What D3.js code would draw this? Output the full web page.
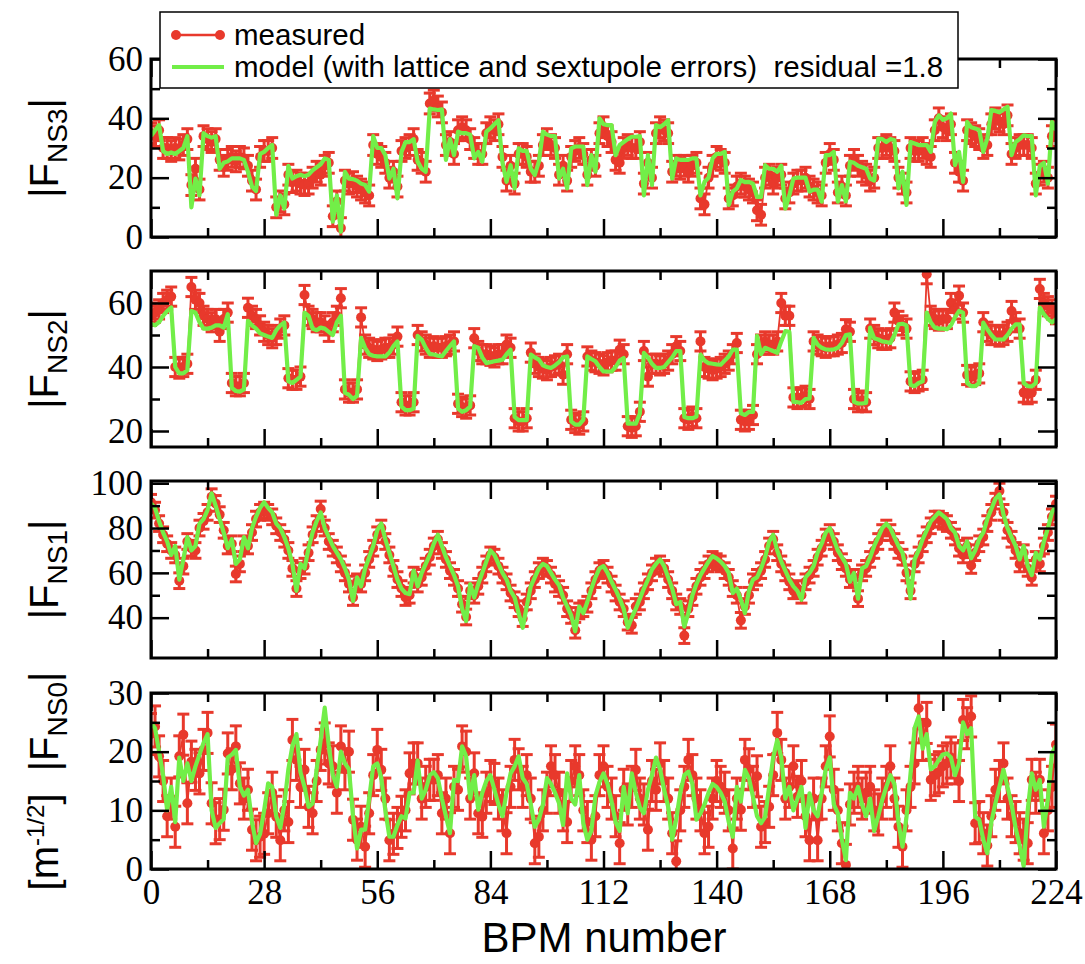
<!DOCTYPE html>
<html>
<head>
<meta charset="utf-8">
<script src="https://cdn.jsdelivr.net/npm/d3@7"></script>
<style>
body { margin: 0; background: #fff; }
</style>
</head>
<body>
<div id="chart"></div>
<script>
// |F_NS3| (panel 1)
const ns3Measured = [
  35, 34, 36, 30, 30, 29, 30, 29.5, 31, 33, 17.5, 23, 16, 34, 33,
  32, 33, 26, 24, 26, 27, 25.5, 27, 26.5, 24, 19, 16, 27, 29, 29,
  30, 10, 12, 11, 21, 18.5, 19, 18, 17.5, 18, 20, 22, 21, 24, 25,
  7, 12, 3, 19, 18, 18.5, 17, 16, 15, 14, 31, 28, 27, 25, 20,
  22, 17, 29, 30, 31, 33, 26, 25, 22, 45, 46, 44, 42, 31, 32,
  28, 36, 37, 36, 33, 30, 28, 28, 35, 37, 36, 38, 27, 19, 24,
  18, 28, 28, 27, 22, 22, 24, 31, 33, 31, 30, 21, 24, 19, 27,
  29, 30, 28, 21, 26, 24, 35, 37, 34, 32, 26, 25, 30, 31, 30,
  30, 32, 18, 25, 20, 35, 37, 36, 35, 22, 24, 23, 24, 22, 24,
  25, 13, 11, 20, 24, 27, 26, 25, 13, 14, 17, 18, 17, 16, 15,
  9, 7.5, 20, 21, 18, 20, 21, 13, 15, 18, 19, 19, 20, 17, 16,
  15, 14, 25, 28, 26, 15, 17, 14, 24, 26, 24, 22, 21, 19, 20,
  30, 30, 31, 30, 29, 20, 18, 15, 30, 29, 29, 30, 28, 27, 36,
  40, 37, 36, 38, 25, 22, 19, 36, 35, 34, 33, 30, 31, 38, 40,
  39, 38, 41, 28, 30, 31, 31, 31, 30, 18, 21, 22, 20, 34, 36
];
const ns3Model = [
  34, 36, 37.7, 29, 28, 28.5, 28, 29, 30, 34, 10, 19.7, 14, 35, 34,
  33.5, 34, 23, 25, 25.5, 26.5, 26.5, 26.5, 26, 22, 17, 15.5, 28, 28.7, 30,
  31, 7.5, 14, 9.6, 24, 19.7, 20.5, 21, 20.5, 21, 22.5, 23.5, 24.5, 26.5, 26,
  5.2, 14, 1.8, 22, 19.7, 19.5, 19, 18, 17.5, 15.3, 34, 30, 30, 27.6, 19.7,
  23, 13, 28.7, 32, 32, 33, 25.4, 23, 22, 43.3, 43, 42.8, 43, 26, 33,
  27.6, 35.5, 35, 35, 34.5, 26.5, 28.7, 25.4, 35.5, 36.6, 38, 39.4, 25, 18.6, 24.2,
  16.4, 29.9, 29, 29, 23, 20.9, 25.4, 35.5, 34.5, 34, 34, 19.7, 23, 16.4, 29.9,
  30.5, 30.5, 30.5, 17.5, 27.6, 22, 40, 38, 37.7, 37.7, 27.6, 31, 32, 33, 33.8,
  33.8, 34, 14, 27.6, 17.5, 37.7, 37, 38, 39.4, 19.7, 26.5, 26, 26, 26, 26.5,
  26.5, 14, 18.6, 20, 26.5, 28, 28, 28.7, 10.8, 15.3, 16.4, 19.2, 18.5, 18.6, 18,
  13.5, 13.5, 24.2, 23, 23, 22, 24, 9.6, 14, 19.7, 20, 20, 20, 15.3, 16,
  16, 11.9, 27.6, 27.6, 28.7, 11.9, 17.5, 12, 25.4, 25, 24, 23.5, 23, 19.7, 19,
  33.2, 33, 32, 33, 32.7, 16.4, 22, 10.8, 32, 31.5, 31, 31, 31, 28.7, 38.8,
  41, 39.5, 40, 41.6, 24.2, 28.7, 18.6, 38.8, 37, 36.6, 36, 28.7, 33.2, 42.8, 42.5,
  42, 43, 43.9, 27.6, 32, 33, 34.3, 34, 34, 14, 24, 25, 18, 38.8, 36
];

// |F_NS2| (panel 2)
const ns2Measured = [
  56, 57, 58, 60, 61, 62, 40, 39.5, 40, 41, 65, 61, 60, 56, 55,
  54, 55, 51, 55, 57, 35, 34, 34, 35, 58.5, 56, 55, 53, 51, 50,
  49, 50, 52, 53, 36.5, 36, 36, 37, 62.5, 56, 55, 54, 54, 53, 51,
  54, 56, 61.5, 33, 32, 32, 33, 55.5, 47, 46, 45.5, 45, 45.5, 46, 46,
  47, 49.5, 29, 28, 28, 29, 50, 48, 47, 46, 46.5, 46, 46, 46.5, 47,
  48, 28.5, 27.5, 27, 28, 49, 45, 44, 44, 43.5, 43, 44, 44, 47, 46,
  24, 23, 23, 24, 44.5, 41, 40, 39.5, 39, 40, 40.5, 41, 37.6, 44, 23.5,
  22.5, 22, 23, 43.3, 42, 41.5, 41, 40.5, 41.5, 42, 42, 45.4, 44, 21.5, 21,
  21.5, 26, 45, 37, 41, 41, 40.5, 41, 42, 44, 46.5, 45, 24, 23.5, 24.5,
  24, 48, 40, 39.5, 39, 39.5, 40, 41, 42, 44, 47.5, 23.5, 23, 23.5, 25,
  44, 47, 48, 47, 47, 48, 60, 56, 56, 30.5, 30, 30.5, 31, 30, 48,
  47, 46.5, 46, 46.5, 46.5, 47, 47.5, 51.8, 51, 30, 29, 29.5, 29, 52, 50,
  49, 48.5, 48.5, 49, 57, 54.4, 53, 52, 35.5, 35, 35.5, 36, 69, 56, 55,
  54.5, 55, 55, 60, 58, 62.3, 57, 37.5, 37, 37.5, 38, 54, 51, 50, 50,
  49.5, 50, 51, 57.5, 54, 52, 32, 31.5, 32, 36, 64.4, 60, 59, 58, 56.5
];
const ns2Model = [
  53.5, 53, 54, 56, 57.5, 58.6, 40, 38, 38, 39, 57.5, 57, 54, 52, 52,
  52.3, 53, 53, 52.3, 56.5, 33.5, 32.5, 32.3, 33, 54.4, 53, 52, 50.5, 50, 49.5,
  49.1, 51.5, 53, 53.9, 35.5, 35, 36, 37, 57, 56, 52, 51.5, 52.3, 52, 51,
  50, 54, 56, 32, 31.3, 30, 31, 49.1, 46, 44, 43.5, 43.3, 43.3, 43.3, 44.5,
  46.5, 48, 27.6, 26.5, 26.5, 27, 49.7, 48.6, 46, 44, 43.9, 43.5, 43.3, 45, 46.5,
  48, 27, 26, 26.5, 27.6, 46.5, 46, 43, 41.2, 41.5, 41.8, 42, 42.3, 44, 45.4,
  24.4, 23.4, 23.4, 23.4, 43.9, 43, 42.3, 40.5, 40, 39.7, 40.5, 41.5, 43, 43.3, 23,
  22, 22, 23.5, 43.3, 42.5, 41.8, 40, 38.6, 38.6, 38.6, 40, 42, 42.8, 22.3, 22.3,
  22.3, 25.5, 44.4, 43, 41, 39.7, 39.7, 40, 41.5, 43, 45, 45, 24.4, 24, 24,
  24.5, 43.9, 42, 41.2, 41, 40.8, 40.7, 42, 43.3, 45.4, 45.4, 25.5, 25, 26, 26,
  49.7, 44, 46, 45.5, 45, 44.4, 48, 51.2, 51, 29.1, 29, 28.8, 30, 30.2, 49.1,
  47, 46, 45.5, 45.4, 45.5, 46, 47.5, 50, 50.2, 29.1, 28.6, 28.6, 28.8, 52.3, 49,
  48.6, 48, 47.8, 47.5, 50, 53.3, 53.5, 53, 34.4, 34, 35, 35.5, 57, 54, 52.3,
  52, 52, 51.8, 53, 55.5, 57.5, 57, 35, 34, 34, 35, 53.9, 51.8, 50, 48.6,
  48.6, 48.6, 50, 52, 53.3, 53.3, 35, 34, 33.9, 35, 58.6, 56.5, 55, 53.9, 55
];

// |F_NS1| (panel 3)
const ns1Measured = [
  91.5, 88, 82, 77, 73, 70, 68, 56.5, 63, 74, 71, 70, 80, 83, 87,
  94, 91, 86, 79, 72, 73, 59.5, 64, 73, 72, 78, 84, 87, 88, 87,
  85, 81, 78, 75, 70, 62, 53, 61, 63, 69, 77, 82, 88.5, 80, 74,
  71, 68, 64, 60, 55, 49, 56, 55, 60, 66, 71, 77, 80, 74, 68,
  62, 57, 53, 49, 50, 59, 55, 58, 63, 67, 72, 75, 70, 66, 61,
  58, 53, 46, 40.3, 52, 50, 54, 59, 64, 68, 67, 63, 59, 56, 51,
  48, 44, 39.6, 47, 52, 57, 61, 63, 62, 59, 55, 53, 50, 44, 41,
  34.4, 43, 44, 46, 52, 57, 61, 62, 59, 55, 51, 47, 44, 38, 36.6,
  45, 47, 52, 56, 60, 63, 64, 62, 57, 52, 47, 45, 32, 44, 49,
  54, 58, 61, 64, 66, 65, 64, 61, 58, 53, 50, 38.8, 45, 50, 56,
  58, 61, 66, 72, 75, 69, 64, 60, 56, 52, 53, 50, 56, 59, 62,
  67, 71, 76, 78, 74, 69, 65, 62, 57, 58, 48.5, 60, 62, 66, 70,
  74, 78, 80, 78, 74, 70, 67, 60, 52, 64, 68, 73, 77, 81, 84,
  84, 83, 82, 79, 76, 71, 68, 72, 63.3, 69, 73, 76, 82, 87, 92,
  96.5, 87, 79, 75, 70, 64, 69, 62, 58, 66, 64, 72, 78, 85, 90.7
];
const ns1Model = [
  91, 89, 83, 78, 74, 68, 72, 57, 66, 76, 70, 72, 82, 84, 88,
  95.5, 90, 84, 78, 71, 75, 64, 66, 76, 71, 80, 85, 89, 91.5, 89,
  87, 82, 80, 76, 71, 64, 52, 64, 62, 71, 78, 83, 87, 80, 76,
  72, 69, 66, 62, 57, 47.5, 58, 54, 62, 67, 72, 79, 82, 75, 69,
  63, 57, 53, 51, 50.5, 61, 54, 60, 64, 68, 73, 77, 72, 67, 63,
  59, 54, 44, 38.5, 55, 49, 55, 60, 65, 70, 68, 64, 60, 57, 52,
  49, 42, 35.5, 45, 54, 58, 62, 64, 63, 60, 57, 54.5, 49, 45, 41,
  34, 45, 42, 47, 53, 58, 62, 63, 60, 56, 52.5, 48.5, 44, 35.5, 40,
  44, 48.5, 53, 57, 61.5, 64, 66, 63, 58, 53, 46, 47, 36, 42, 50,
  55, 59, 62, 65, 67.5, 66.5, 65, 63, 60, 51, 53, 48, 42, 52, 57,
  58, 62, 67, 74, 77, 70, 65, 61, 57, 54, 52, 48, 58, 60, 63,
  69, 73, 78, 80, 75, 70, 67, 64, 56, 60, 48.5, 62, 63, 67, 72,
  76, 80, 82, 80, 76, 72, 69, 61, 48.5, 66, 70, 75, 79, 83, 85,
  87, 85.5, 84, 80, 78, 72, 70, 74, 66.5, 70, 75, 78, 84, 88.5, 93,
  95, 86, 80, 76, 72, 66, 72, 63, 59, 69, 66, 74, 80, 87, 90
];

// |F_NS0| (panel 4)
const ns0Measured = [
  23, 24.3, 19.2, 15, 9, 12, 7.2, 19.2, 22.9, 11.2, 18.3, 16.9, 16.3, 20.3, 23.2,
  11.2, 7.8, 8.5, 10.1, 19.7, 17, 20.9, 14.6, 12, 13.5, 6.7, 4.9, 5.5, 6, 9.5,
  13, 8.9, 4.9, 10, 8, 22, 18.6, 14, 16.9, 10.6, 9.5, 15, 20.3, 21.4, 18,
  17.5, 13, 20.9, 17, 20, 8.4, 5, 7.2, 3.8, 9.5, 16, 20.3, 16.9, 12, 4.9,
  6, 7, 8.9, 10, 16.3, 18, 18, 12, 14, 15.2, 15.2, 16, 9.5, 12, 6.1,
  14, 13.5, 20.9, 20, 12, 16.3, 9.5, 8.9, 13, 15, 14.5, 12, 10, 6.1, 14,
  18.6, 17, 14, 16, 12, 4.4, 5.5, 10, 13, 17.5, 16, 13, 10, 8, 15,
  17.5, 16, 10, 8, 5, 9, 16, 17.5, 14, 12, 9, 4.4, 13.5, 11, 14,
  16.9, 12, 11, 6.7, 15, 13.5, 18, 15, 12, 6.1, 1.3, 10, 14, 18.6, 16,
  12, 10, 6.1, 7.2, 12, 15, 14, 13, 10, 3.5, 12, 10.1, 18.6, 17, 14,
  15.8, 7.2, 8, 10.6, 16, 23.2, 18.6, 12, 14, 17.5, 12.3, 15, 9, 4.9, 12,
  4.9, 12, 17.5, 22.6, 13.5, 10, 4.4, 0.7, 11, 13, 14, 12, 13, 14, 10,
  9.3, 12, 14, 17.5, 12, 7.2, 3.8, 10, 14, 18, 27.4, 22, 24.9, 15.2, 16,
  16.5, 17.5, 18, 19, 18, 15, 25.4, 24, 26, 7.8, 8, 6.1, 4, 9, 13.5,
  15, 18, 12, 9, 8, 6.1, 5, 4.4, 15.2, 13, 15.2, 6.1, 10, 14, 21.2
];
const ns0Model = [
  25, 24, 20, 16, 10, 14, 8, 19, 15, 18, 15, 17.5, 19.5, 21.5, 23,
  10, 7, 7.8, 8.5, 19, 19.5, 20.3, 14, 12.5, 13.5, 8, 4.4, 6, 10, 14.6,
  14, 9, 7, 11, 17, 21, 23, 16.5, 14, 10.6, 11.2, 17, 22, 27.5, 21,
  16, 14, 20, 18, 17, 9, 3.5, 6.7, 6.7, 12, 17.5, 18, 15.5, 10, 5.5,
  5.5, 7.5, 9, 8.6, 13, 13, 18.5, 12, 13.5, 16, 16.5, 15.5, 12, 9, 6.1,
  15.2, 15, 20.9, 19.2, 12, 16, 10.1, 13, 15, 16, 13.5, 11, 9, 13, 16.3,
  17.5, 19.2, 15.5, 14.5, 11, 7.2, 8.4, 11, 15.5, 14.5, 13, 11.2, 7.5, 16.3, 12,
  11, 16, 7.8, 5, 6.5, 12.5, 14.8, 16.3, 14.5, 11.5, 8, 6.5, 14, 9.5, 16.3,
  13, 10.5, 9.5, 13.5, 16, 19, 17, 13.5, 10.6, 5, 8.5, 13, 16, 16.6, 14.5,
  8.4, 9.5, 11, 13, 14.5, 14, 13, 11.5, 8, 5.5, 14, 11.5, 16.9, 15.5, 12.3,
  9, 7.8, 8.9, 14, 19, 22, 19, 12, 14, 10, 12, 14, 7, 12.9, 10,
  9, 13, 17, 19, 11, 9.5, 5, 1.5, 13, 12, 14, 11, 9, 12, 6.5,
  9, 11.8, 14, 16, 14.5, 8, 3.8, 8.9, 16.3, 24, 26, 20.5, 23, 17, 17.5,
  18.6, 19.5, 19.7, 19, 16, 18, 25, 23, 24, 8.9, 8.4, 5, 2.7, 8, 11.2,
  14, 16.9, 14, 11, 7, 4, 0.5, 10, 16.3, 13.5, 15.2, 7.2, 12, 19.7, 21
];

// half-length of the error bars in each panel
const ns3Err = 3.5, ns2Err = 3, ns1Err = 3.5, ns0Err = 3.5;

const xMajor = [0, 28, 56, 84, 112, 140, 168, 196, 224];
const xMinor = [14, 42, 70, 98, 126, 154, 182, 210];

const panels = [
  { sub: "NS3", measured: ns3Measured, model: ns3Model, err: ns3Err, domain: [0, 60], major: [0, 20, 40, 60], minor: [10, 30, 50], top: 59, bottom: 237 },
  { sub: "NS2", measured: ns2Measured, model: ns2Model, err: ns2Err, domain: [15, 70], major: [20, 40, 60], minor: [30, 50], top: 271, bottom: 447 },
  { sub: "NS1", measured: ns1Measured, model: ns1Model, err: ns1Err, domain: [22, 101], major: [40, 60, 80, 100], minor: [50, 70, 90], top: 481, bottom: 658 },
  { sub: "NS0", measured: ns0Measured, model: ns0Model, err: ns0Err, domain: [0, 30], major: [0, 10, 20, 30], minor: [5, 15, 25], top: 693, bottom: 869, unit: true }
];

const red = "#e8392c";
const green = "#72ee48";
const left = 151, right = 1056;

const svg = d3.select("#chart").append("svg")
  .attr("width", 1085)
  .attr("height", 964)
  .style("font-family", "'Liberation Sans', Arial, sans-serif");

const x = d3.scaleLinear().domain([0, 224]).range([left, right]);

panels.forEach(function(p, i) {
  const y = d3.scaleLinear().domain(p.domain).range([p.bottom, p.top]);
  const last = i === panels.length - 1;

  svg.append("clipPath").attr("id", "clip" + i)
    .append("rect")
    .attr("x", left).attr("y", p.top)
    .attr("width", right - left).attr("height", p.bottom - p.top);

  const g = svg.append("g").attr("clip-path", "url(#clip" + i + ")");

  // measured: thin line, error bars, dots
  g.append("path")
    .datum(p.measured)
    .attr("fill", "none")
    .attr("stroke", red)
    .attr("stroke-width", 1.8)
    .attr("d", d3.line().x((d, j) => x(j)).y(d => y(d)));

  const bars = g.selectAll(".bar").data(p.measured).enter().append("g");
  bars.append("line")
    .attr("x1", (d, j) => x(j)).attr("x2", (d, j) => x(j))
    .attr("y1", d => y(d - p.err)).attr("y2", d => y(d + p.err))
    .attr("stroke", red).attr("stroke-width", 3);
  [-1, 1].forEach(function(s) {
    bars.append("line")
      .attr("x1", (d, j) => x(j) - 6).attr("x2", (d, j) => x(j) + 6)
      .attr("y1", d => y(d + s * p.err)).attr("y2", d => y(d + s * p.err))
      .attr("stroke", red).attr("stroke-width", 3);
  });
  bars.append("circle")
    .attr("cx", (d, j) => x(j)).attr("cy", d => y(d))
    .attr("r", 5).attr("fill", red);

  // model
  g.append("path")
    .datum(p.model)
    .attr("fill", "none")
    .attr("stroke", green)
    .attr("stroke-width", 4.2)
    .attr("stroke-linejoin", "round")
    .attr("d", d3.line().x((d, j) => x(j)).y(d => y(d)));

  // ticks on all four sides, pointing inwards
  function style(sel) {
    sel.select(".domain").remove();
    sel.selectAll("line").attr("stroke", "#000").attr("stroke-width", 2.5);
    sel.selectAll("text")
      .style("font-family", "'Liberation Serif', 'Times New Roman', serif")
      .style("font-size", "35px")
      .attr("fill", "#000");
  }
  svg.append("g").attr("transform", "translate(0," + p.bottom + ")")
    .call(d3.axisBottom(x).tickValues(xMajor).tickSize(-18).tickPadding(10)
      .tickFormat(last ? d3.format("d") : () => ""))
    .call(style);
  svg.append("g").attr("transform", "translate(0," + p.bottom + ")")
    .call(d3.axisBottom(x).tickValues(xMinor).tickSize(-9).tickFormat(() => ""))
    .call(style);
  svg.append("g").attr("transform", "translate(0," + p.top + ")")
    .call(d3.axisTop(x).tickValues(xMajor).tickSize(-18).tickFormat(() => ""))
    .call(style);
  svg.append("g").attr("transform", "translate(0," + p.top + ")")
    .call(d3.axisTop(x).tickValues(xMinor).tickSize(-9).tickFormat(() => ""))
    .call(style);
  svg.append("g").attr("transform", "translate(" + left + ",0)")
    .call(d3.axisLeft(y).tickValues(p.major).tickSize(-18).tickPadding(8).tickFormat(d3.format("d")))
    .call(style);
  svg.append("g").attr("transform", "translate(" + left + ",0)")
    .call(d3.axisLeft(y).tickValues(p.minor).tickSize(-9).tickFormat(() => ""))
    .call(style);
  svg.append("g").attr("transform", "translate(" + right + ",0)")
    .call(d3.axisRight(y).tickValues(p.major).tickSize(-18).tickFormat(() => ""))
    .call(style);
  svg.append("g").attr("transform", "translate(" + right + ",0)")
    .call(d3.axisRight(y).tickValues(p.minor).tickSize(-9).tickFormat(() => ""))
    .call(style);

  svg.append("rect")
    .attr("x", left).attr("y", p.top)
    .attr("width", right - left).attr("height", p.bottom - p.top)
    .attr("fill", "none").attr("stroke", "#000").attr("stroke-width", 3);

  // y title |F_NSn|
  const t = svg.append("text")
    .attr("transform", "translate(58," + (p.top + p.bottom) / 2 + ") rotate(-90)")
    .attr("text-anchor", "middle")
    .style("font-size", "40px")
    .attr("fill", "#000");
  if (p.unit) {
    t.append("tspan").text("[m");
    t.append("tspan").attr("dy", -14).style("font-size", "24px").text("-1/2");
    t.append("tspan").attr("dy", 14).text("]\u00a0\u00a0|F");
  } else {
    t.append("tspan").text("|F");
  }
  t.append("tspan").attr("dy", 9).style("font-size", "28px").text(p.sub);
  t.append("tspan").attr("dy", -9).text("|");
});

svg.append("text")
  .attr("x", 604).attr("y", 952)
  .attr("text-anchor", "middle")
  .style("font-size", "42px")
  .text("BPM number");

// legend
const legend = svg.append("g");
legend.append("rect")
  .attr("x", 160).attr("y", 12).attr("width", 798).attr("height", 76)
  .attr("fill", "#fff").attr("stroke", "#000").attr("stroke-width", 1.5);
legend.append("line")
  .attr("x1", 176).attr("x2", 220).attr("y1", 35).attr("y2", 35)
  .attr("stroke", red).attr("stroke-width", 2.5);
legend.selectAll(".ldot").data([176, 220]).enter().append("circle")
  .attr("cx", d => d).attr("cy", 35).attr("r", 5).attr("fill", red);
legend.append("line")
  .attr("x1", 172).attr("x2", 224).attr("y1", 67).attr("y2", 67)
  .attr("stroke", green).attr("stroke-width", 4);
legend.append("text")
  .attr("x", 234).attr("y", 45)
  .style("font-size", "29.5px")
  .text("measured");
legend.append("text")
  .attr("x", 234).attr("y", 77)
  .style("font-size", "29.5px")
  .text("model (with lattice and sextupole errors)\u00a0\u00a0residual =1.8");
</script>
</body>
</html>
